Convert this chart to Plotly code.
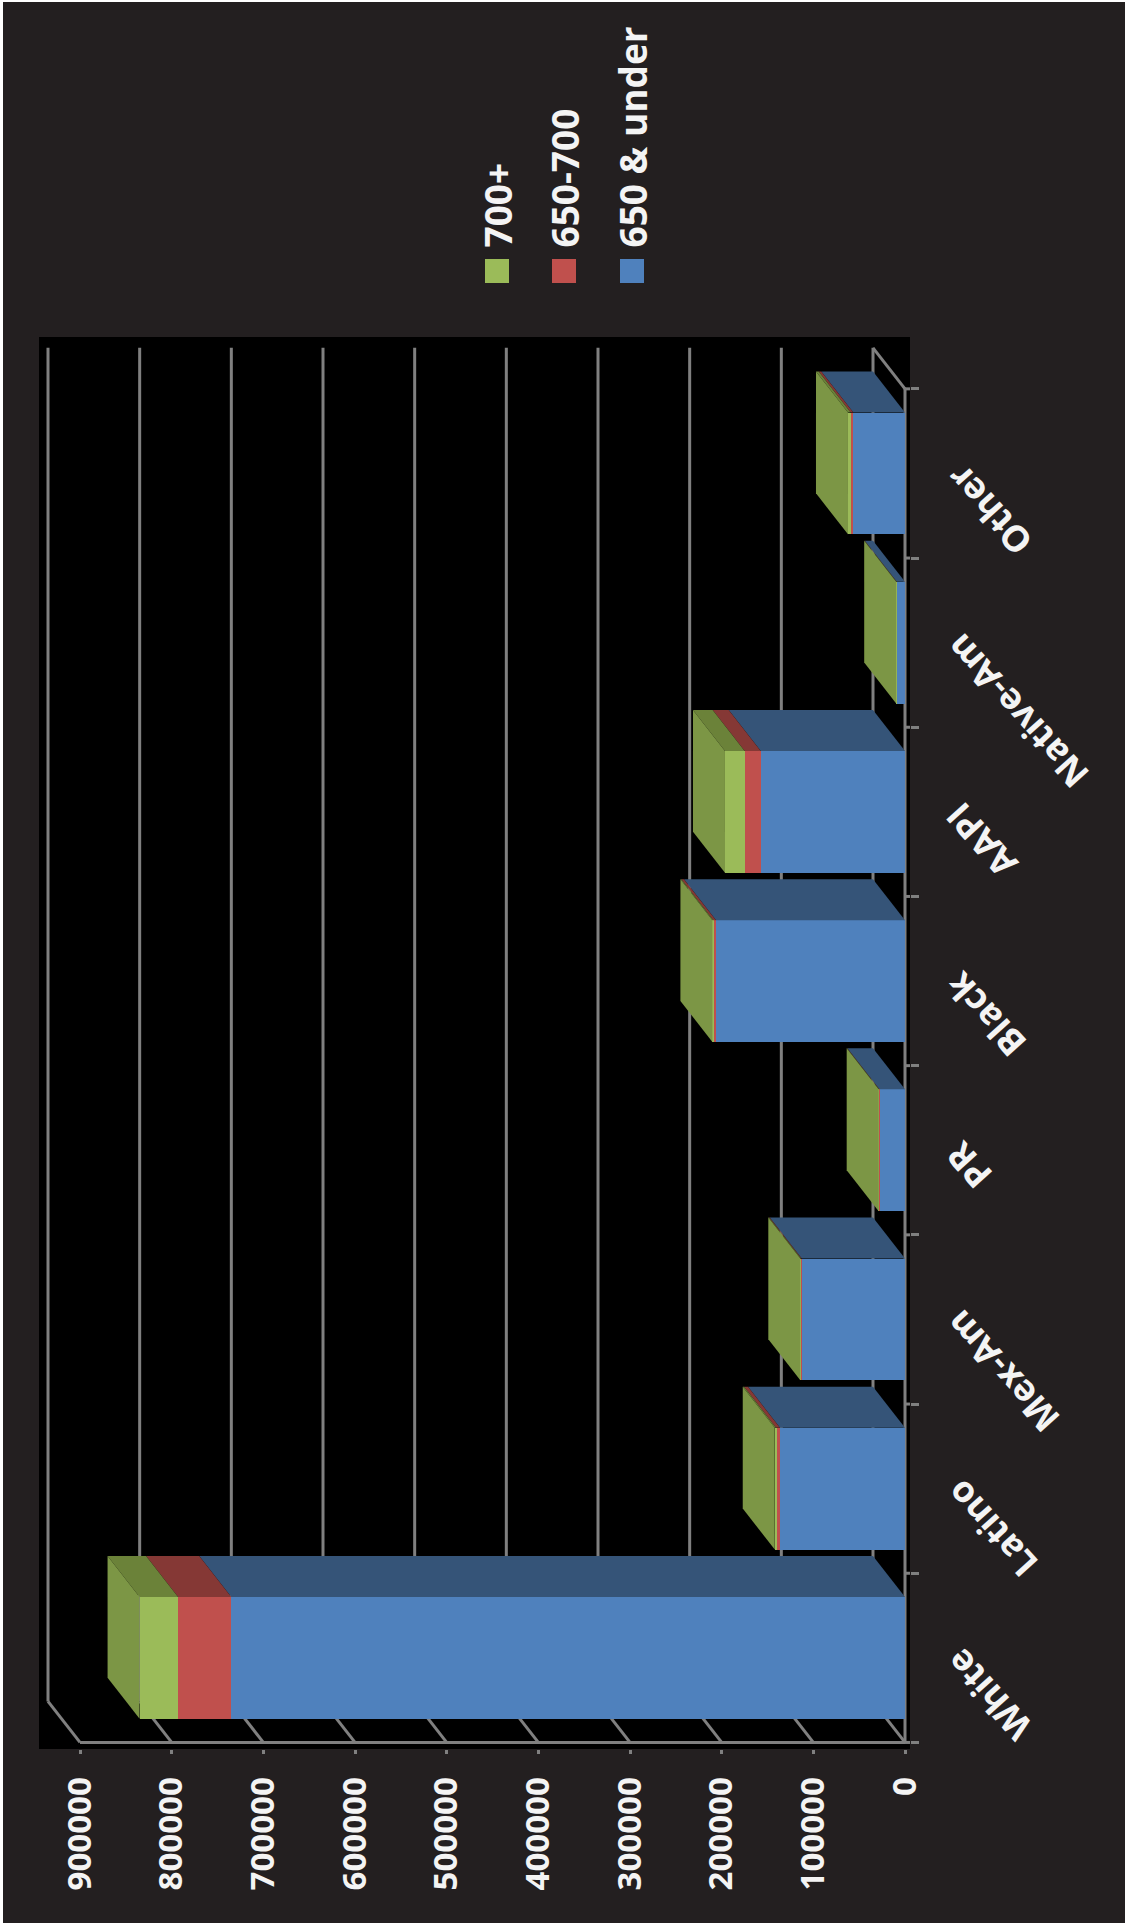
import plotly.graph_objects as go

# Enrollment by race/ethnicity and score band
categories = ["White", "Latino", "Mex-Am", "PR", "Black", "AAPI", "Native-Am", "Other"]
under_650 = [735000, 136400, 112700, 28000, 206200, 157400, 9000, 56400]
from_650_to_700 = [58000, 4300, 800, 400, 2900, 17500, 300, 2800]
over_700 = [42000, 1400, 700, 300, 1000, 21500, 300, 3000]
value_ticks = [0, 100000, 200000, 300000, 400000, 500000, 600000, 700000, 800000, 900000]
series_names = ["650 & under", "650-700", "700+"]

PAPER = "#231F20"
GRID = "#808080"
FRONT = ["#4F81BD", "#C0504D", "#9BBB59"]
TOP = ["#355478", "#853835", "#6B8239"]
SIDE = "#7C9645"
TEXT = "#F4F4F4"
FONT = "Open Sans"

# Page geometry of the black panel and of the value axis, in pixels
W, H = 1131, 1923
PANEL_L, PANEL_R, PANEL_T, PANEL_B = 39, 910, 337, 1749
ZERO_PX, MAX_PX = 905, 80
CAT0_PX, CAT_STEP = 1657.85, 169.2
PX_PER_UNIT = (ZERO_PX - MAX_PX) / 900000

x_range = [(ZERO_PX - PANEL_L) / PX_PER_UNIT, (ZERO_PX - PANEL_R) / PX_PER_UNIT]
y_range = [(CAT0_PX - PANEL_B) / CAT_STEP, (CAT0_PX - PANEL_T) / CAT_STEP]

# Oblique offset of the 3-D depth, in data units
DEPTH_X = 32 / PX_PER_UNIT
DEPTH_Y = 41 / CAT_STEP
BAR_W = 0.72

positions = list(range(len(categories)))
series = [under_650, from_650_to_700, over_700]

fig = go.Figure()

# Front faces of the stacked bars
for name, values, color in zip(series_names, series, FRONT):
    fig.add_trace(go.Bar(y=positions, x=values, name=name, orientation="h", width=BAR_W,
                         marker=dict(color=color, line=dict(width=0)),
                         customdata=categories,
                         hovertemplate="%{customdata}: %{x}<extra>" + name + "</extra>"))


def face(xs, ys, color):
    fig.add_trace(go.Scatter(x=xs, y=ys, mode="lines", fill="toself", fillcolor=color,
                             line=dict(width=0), hoverinfo="skip", showlegend=False))


# Top faces per segment and the closing side face per bar
for i in positions:
    top = i + BAR_W / 2
    bottom = i - BAR_W / 2
    start = 0
    for values, color in zip(series, TOP):
        end = start + values[i]
        face([start, end, end + DEPTH_X, start + DEPTH_X, start],
             [top, top, top + DEPTH_Y, top + DEPTH_Y, top], color)
        start = end
    face([start, start, start + DEPTH_X, start + DEPTH_X, start],
         [bottom, top, top + DEPTH_Y, bottom + DEPTH_Y, bottom], SIDE)

shapes = []


def rule(x0, y0, x1, y1):
    shapes.append(dict(type="line", xref="x", yref="y", x0=x0, y0=y0, x1=x1, y1=y1,
                       layer="below", line=dict(color=GRID, width=3)))


floor = -0.5
ceiling = 7.5
for v in value_ticks:
    rule(v + DEPTH_X, floor + DEPTH_Y, v + DEPTH_X, ceiling + DEPTH_Y)  # back wall
    rule(v, floor, v + DEPTH_X, floor + DEPTH_Y)                        # floor
rule(0, floor, 0, ceiling)
rule(0, floor, 900000, floor)
rule(0, ceiling, DEPTH_X, ceiling + DEPTH_Y)
for k in range(len(categories) + 1):
    rule(0, k - 0.5, x_range[1], k - 0.5)

# Light edge strips around the page
for x0, y0, x1, y1 in [(0, 0, W, 2), (0, 0, 3, H), (1125, 0, W, H)]:
    shapes.append(dict(type="rect", xref="paper", yref="paper", layer="above",
                       x0=(x0 - PANEL_L) / (PANEL_R - PANEL_L), x1=(x1 - PANEL_L) / (PANEL_R - PANEL_L),
                       y0=(PANEL_B - y0) / (PANEL_B - PANEL_T), y1=(PANEL_B - y1) / (PANEL_B - PANEL_T),
                       fillcolor="#FFFFFF", line=dict(width=0)))

annotations = []

# Category labels, running up and to the left from the axis
LABEL_PX = 932
LABEL_LIFT = 22
for i, name in zip(positions, categories):
    annotations.append(dict(text=name, xref="paper", yref="y",
                            x=(LABEL_PX - PANEL_L) / (PANEL_R - PANEL_L), y=i, yshift=LABEL_LIFT,
                            xanchor="left", yanchor="top", textangle=-132, showarrow=False,
                            font=dict(family=FONT, size=36, color=TEXT, weight="bold")))

# Legend keys and labels, turned with the rest of the chart
KEY_X = [620, 552, 485]
for name, color, x0 in zip(series_names, FRONT, KEY_X):
    shapes.append(dict(type="rect", xref="paper", yref="paper", layer="above",
                       x0=(x0 - PANEL_L) / (PANEL_R - PANEL_L), x1=(x0 + 24 - PANEL_L) / (PANEL_R - PANEL_L),
                       y0=(PANEL_B - 259) / (PANEL_B - PANEL_T), y1=(PANEL_B - 283) / (PANEL_B - PANEL_T),
                       fillcolor=color, line=dict(width=0)))
    annotations.append(dict(text=name, xref="paper", yref="paper",
                            x=(x0 + 12 - PANEL_L) / (PANEL_R - PANEL_L),
                            y=(PANEL_B - 250) / (PANEL_B - PANEL_T),
                            xanchor="center", yanchor="bottom", textangle=-90, showarrow=False,
                            font=dict(family=FONT, size=37, color=TEXT, weight="bold")))

fig.update_layout(
    width=W, height=H, barmode="stack", showlegend=False,
    paper_bgcolor=PAPER, plot_bgcolor="#000000",
    margin=dict(l=PANEL_L, r=W - PANEL_R, t=PANEL_T, b=H - PANEL_B, autoexpand=False),
    shapes=shapes, annotations=annotations,
    font=dict(family=FONT, color=TEXT),
    xaxis=dict(range=x_range, tickmode="array", tickvals=value_ticks,
               ticktext=[str(v) for v in value_ticks], tickangle=-90,
               ticks="outside", ticklen=4, tickwidth=3, tickcolor=GRID,
               showgrid=False, zeroline=False, showline=False, ticklabelstandoff=10,
               tickfont=dict(family=FONT, size=33, color=TEXT, weight="bold")),
    yaxis=dict(range=y_range, side="right", tickmode="array",
               tickvals=[k - 0.5 for k in range(len(categories) + 1)],
               ticktext=[""] * (len(categories) + 1),
               ticks="outside", ticklen=8, tickwidth=3, tickcolor=GRID,
               showgrid=False, zeroline=False, showline=False),
)

fig.write_html("out.html", config=dict(displayModeBar=False))
